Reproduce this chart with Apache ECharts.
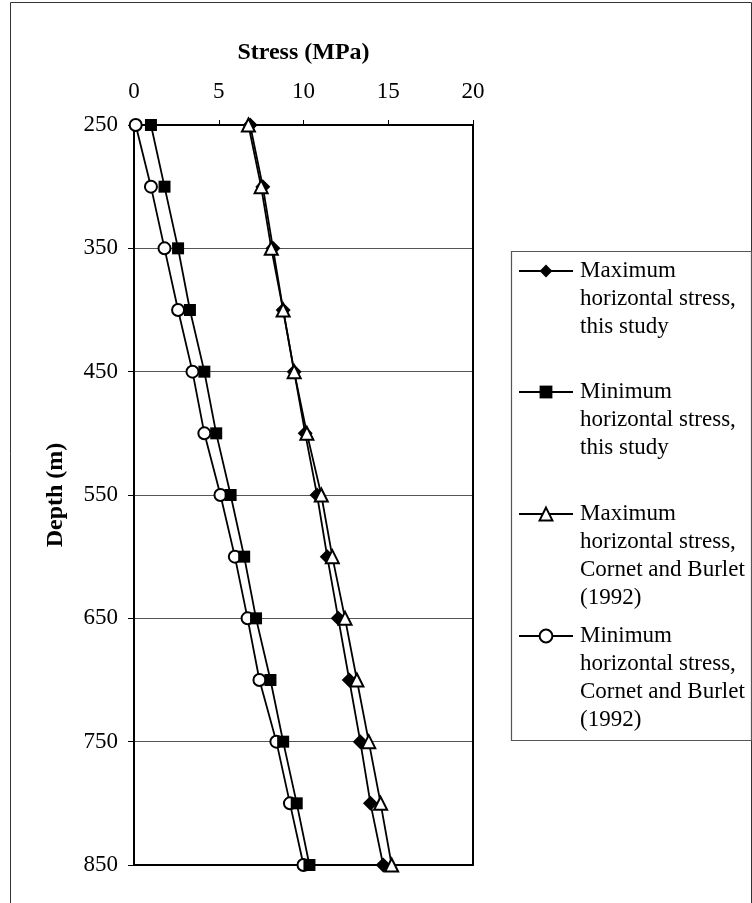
<!DOCTYPE html>
<html><head><meta charset="utf-8">
<script src="https://cdn.jsdelivr.net/npm/echarts@6/dist/echarts.min.js"></script>
<style>html,body{margin:0;padding:0;background:#fff}#c{width:752px;height:903px}</style>
</head><body><div id="c"></div>
<script>
// ---- data ----
const depths = [250, 300, 350, 400, 450, 500, 550, 600, 650, 700, 750, 800, 850];
const maxThisStudy = [6.85, 7.6, 8.2, 8.8, 9.45, 10.1, 10.8, 11.4, 12.05, 12.7, 13.35, 13.95, 14.7];
const minThisStudy = [1.0, 1.8, 2.6, 3.3, 4.15, 4.85, 5.7, 6.5, 7.2, 8.05, 8.8, 9.6, 10.35];
const maxCornet = [6.75, 7.5, 8.1, 8.8, 9.45, 10.2, 11.05, 11.7, 12.45, 13.15, 13.85, 14.55, 15.2];
const minCornet = [0.1, 1.0, 1.8, 2.6, 3.45, 4.15, 5.1, 5.95, 6.7, 7.4, 8.4, 9.2, 10.0];
const stressTicks = [0, 5, 10, 15, 20];
const depthTicks = [250, 350, 450, 550, 650, 750, 850];
const seriesNames = [
  'Maximum\nhorizontal stress,\nthis study',
  'Minimum\nhorizontal stress,\nthis study',
  'Maximum\nhorizontal stress,\nCornet and Burlet\n(1992)',
  'Minimum\nhorizontal stress,\nCornet and Burlet\n(1992)'
];

const FONT = "'Liberation Serif', 'Times New Roman', serif";
const LH = 28;
const pair = (vals) => vals.map((v, i) => [v, depths[i]]);

function makeSeries(name, vals, symbol, size, z) {
  return {
    type: 'line', name: name, data: pair(vals),
    symbol: symbol, symbolSize: size, z: z,
    lineStyle: { color: '#000', width: 1.8 },
    itemStyle: { color: '#000', borderColor: '#000', borderWidth: symbol.indexOf('empty') === 0 ? 1.5 : 0 },
    emphasis: { disabled: true }
  };
}

const iconCenters = [271, 392, 514, 636];
const ITEM_H = 16;
function makeLegend(i) {
  const lines = seriesNames[i].split('\n').length;
  const totalLines = 2 * lines - 1;
  const blockH = totalLines * LH;
  return {
    data: [seriesNames[i]],
    left: 518, top: iconCenters[i] - blockH / 2,
    padding: 0, itemWidth: 54, itemHeight: ITEM_H,
    selectedMode: false,
    formatter: function (name) { return '\n'.repeat(lines - 1) + name; },
    textStyle: { fontFamily: FONT, fontSize: 23, lineHeight: LH, color: '#000', padding: [0, 0, 0, 2] }
  };
}

const chart = echarts.init(document.getElementById('c'));
chart.setOption({
  animation: false,
  backgroundColor: '#fff',
  grid: { left: 134, right: 279, top: 125, bottom: 38, containLabel: false },
  xAxis: [{
    type: 'value', position: 'top', min: stressTicks[0], max: stressTicks[stressTicks.length - 1], interval: 5,
    name: 'Stress (MPa)', nameLocation: 'middle', nameGap: 60,
    nameTextStyle: { fontFamily: FONT, fontSize: 24, fontWeight: 'bold', color: '#000' },
    axisLine: { show: true, lineStyle: { color: '#000', width: 2 } },
    axisTick: { show: true, inside: false, length: 5, lineStyle: { color: '#000', width: 1 } },
    axisLabel: { fontFamily: FONT, fontSize: 23, color: '#000', margin: 22 },
    splitLine: { show: false }
  }, {
    type: 'value', position: 'bottom', min: 0, max: 20,
    axisLine: { show: true, onZero: false, lineStyle: { color: '#000', width: 2 } },
    axisTick: { show: false }, axisLabel: { show: false }, splitLine: { show: false }
  }],
  yAxis: [{
    type: 'value', inverse: true, min: depthTicks[0], max: depthTicks[depthTicks.length - 1], interval: 100,
    name: 'Depth (m)', nameLocation: 'middle', nameGap: 66, nameRotate: 90,
    nameTextStyle: { fontFamily: FONT, fontSize: 24, fontWeight: 'bold', color: '#000' },
    axisLine: { show: true, onZero: false, lineStyle: { color: '#000', width: 2 } },
    axisTick: { show: true, inside: false, length: 6, lineStyle: { color: '#000', width: 1 } },
    axisLabel: { fontFamily: FONT, fontSize: 23, color: '#000', margin: 16 },
    splitLine: { show: true, showMinLine: false, showMaxLine: false, lineStyle: { color: '#555', width: 1 } }
  }, {
    type: 'value', inverse: true, position: 'right', min: 250, max: 850,
    axisLine: { show: true, onZero: false, lineStyle: { color: '#000', width: 2 } },
    axisTick: { show: false }, axisLabel: { show: false }, splitLine: { show: false }
  }],
  legend: [0, 1, 2, 3].map(makeLegend),
  graphic: [
    { type: 'rect', shape: { x: 10.5, y: 2.5, width: 741, height: 920 }, style: { fill: 'none', stroke: '#333', lineWidth: 1 }, silent: true, z: -10 },
    { type: 'rect', shape: { x: 511.5, y: 251.5, width: 240, height: 489 }, style: { fill: 'none', stroke: '#555', lineWidth: 1.2 }, silent: true }
  ],
  series: [
    makeSeries(seriesNames[3], minCornet, 'emptyCircle', 12, 2),
    makeSeries(seriesNames[1], minThisStudy, 'rect', 12, 3),
    makeSeries(seriesNames[0], maxThisStudy, 'diamond', 15, 4),
    makeSeries(seriesNames[2], maxCornet, 'emptyTriangle', 13, 5)
  ]
});
</script></body></html>
